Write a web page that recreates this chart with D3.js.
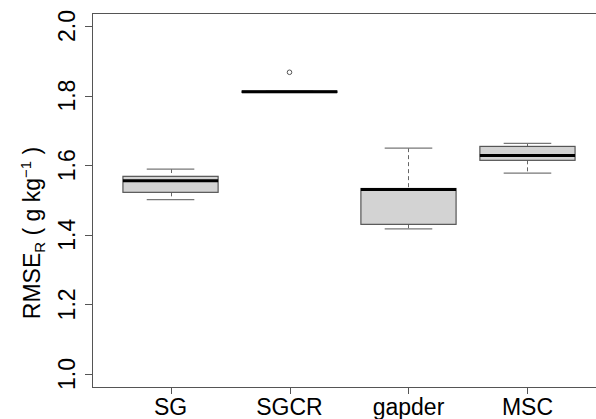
<!DOCTYPE html>
<html>
<head>
<meta charset="utf-8">
<script src="https://cdn.jsdelivr.net/npm/d3@7"></script>
<style>
  body { margin: 0; background: #fff; }
  text { font-family: "Liberation Sans", Arial, sans-serif; fill: #000; }
</style>
</head>
<body>
<svg width="596" height="419"></svg>
<script>
// box stats
var categories = ["SG", "SGCR", "gapder", "MSC"];
var whiskerLow = [1.501, 1.809, 1.417, 1.577];
var q1 = [1.522, 1.809, 1.430, 1.614];
var median = [1.555, 1.811, 1.530, 1.628];
var q3 = [1.568, 1.813, 1.533, 1.654];
var whiskerHigh = [1.589, 1.813, 1.649, 1.663];
var outliers = [[], [1.867], [], []];
var yTicks = [1.0, 1.2, 1.4, 1.6, 1.8, 2.0];

var svg = d3.select("svg");
// plot region (note: "top" is reserved on window, so use other names)
var plotLeft = 92, plotTop = 13, plotBottom = 387, plotRight = 606;

// R style: xlim 0.5..4.5 with 4% padding
var x = d3.scaleLinear().domain([0.34, 4.66]).range([plotLeft, plotRight]);
var y = d3.scaleLinear().domain([1.0, 2.0]).range([374, 26]);

var boxes = categories.map(function(c, i) {
  return {name: c, pos: i + 1, lo: whiskerLow[i], q1: q1[i], med: median[i],
          q3: q3[i], hi: whiskerHigh[i], out: outliers[i]};
});

// frame
svg.append("rect")
  .attr("x", plotLeft + 0.5).attr("y", plotTop + 0.5)
  .attr("width", plotRight - plotLeft).attr("height", plotBottom - plotTop)
  .attr("fill", "none").attr("stroke", "#555").attr("stroke-width", 1);

var g = svg.append("g").selectAll("g")
  .data(boxes).enter().append("g");

// whiskers
g.append("line")
  .attr("x1", d => Math.round(x(d.pos)) + 0.5).attr("x2", d => Math.round(x(d.pos)) + 0.5)
  .attr("y1", d => y(d.hi)).attr("y2", d => y(d.q3))
  .attr("stroke", "#666").attr("stroke-dasharray", "4,3");
g.append("line")
  .attr("x1", d => Math.round(x(d.pos)) + 0.5).attr("x2", d => Math.round(x(d.pos)) + 0.5)
  .attr("y1", d => y(d.q1)).attr("y2", d => y(d.lo))
  .attr("stroke", "#666").attr("stroke-dasharray", "4,3");
["hi", "lo"].forEach(function(k) {
  g.append("line")
    .attr("x1", d => x(d.pos - 0.2)).attr("x2", d => x(d.pos + 0.2))
    .attr("y1", d => y(d[k])).attr("y2", d => y(d[k]))
    .attr("stroke", "#777").attr("stroke-width", 1.2);
});

// boxes
g.append("rect")
  .attr("x", d => x(d.pos - 0.4)).attr("width", d => x(d.pos + 0.4) - x(d.pos - 0.4))
  .attr("y", d => y(d.q3)).attr("height", d => Math.max(1, y(d.q1) - y(d.q3)))
  .attr("fill", "#d3d3d3").attr("stroke", "#555").attr("stroke-width", 1.2);

// medians
g.append("line")
  .attr("x1", d => x(d.pos - 0.4)).attr("x2", d => x(d.pos + 0.4))
  .attr("y1", d => y(d.med)).attr("y2", d => y(d.med))
  .attr("stroke", "#000").attr("stroke-width", 3);

// outliers
g.selectAll("circle")
  .data(d => d.out.map(v => ({pos: d.pos, v: v})))
  .enter().append("circle")
  .attr("cx", d => x(d.pos)).attr("cy", d => y(d.v)).attr("r", 2.3)
  .attr("fill", "none").attr("stroke", "#555").attr("stroke-width", 1);

// y axis
var ya = svg.append("g");
ya.selectAll("line").data(yTicks).enter().append("line")
  .attr("x1", plotLeft - 7).attr("x2", plotLeft)
  .attr("y1", d => Math.round(y(d)) + 0.5).attr("y2", d => Math.round(y(d)) + 0.5)
  .attr("stroke", "#555");
ya.selectAll("text").data(yTicks).enter().append("text")
  .attr("transform", d => "translate(75," + y(d) + ") rotate(-90)")
  .attr("text-anchor", "middle")
  .style("font-size", "23px")
  .text(d => d.toFixed(1));

// x axis
var xa = svg.append("g");
xa.selectAll("line").data(boxes).enter().append("line")
  .attr("x1", d => Math.round(x(d.pos)) + 0.5).attr("x2", d => Math.round(x(d.pos)) + 0.5)
  .attr("y1", plotBottom).attr("y2", plotBottom + 7)
  .attr("stroke", "#555");
xa.selectAll("text").data(boxes).enter().append("text")
  .attr("x", d => x(d.pos)).attr("y", 415)
  .attr("text-anchor", "middle")
  .style("font-size", "23px")
  .text(d => d.name);

// y title
var title = svg.append("text")
  .attr("transform", "translate(40,233) rotate(-90)")
  .attr("text-anchor", "middle")
  .style("font-size", "23px");
title.append("tspan").text("RMSE");
title.append("tspan").attr("dy", 5).style("font-size", "15px").text("R");
title.append("tspan").attr("dy", -5).text(" ( g kg");
title.append("tspan").attr("dy", -9).style("font-size", "15px").text("\u22121");
title.append("tspan").attr("dy", 9).text(" )");
</script>
</body>
</html>
